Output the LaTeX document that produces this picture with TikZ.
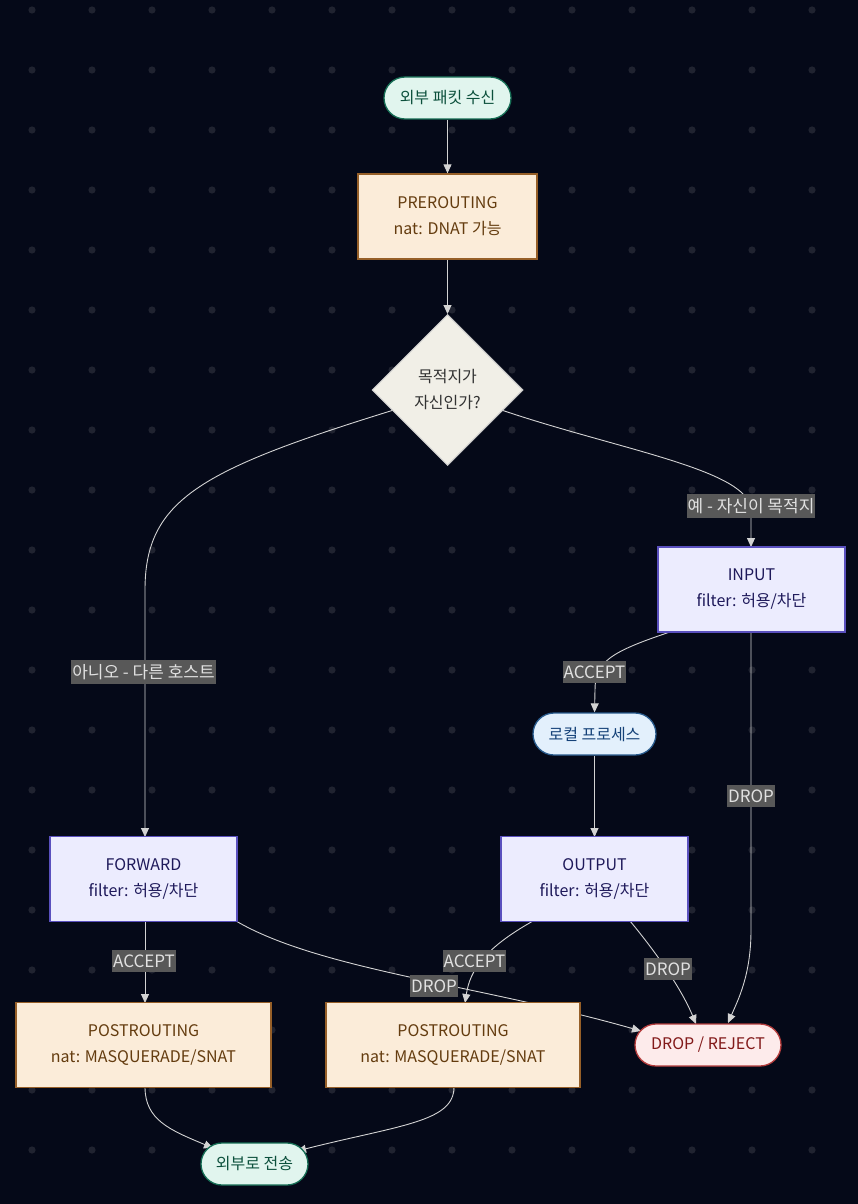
\documentclass[tikz,border=0pt]{standalone}
\usepackage{fontspec}
\setmainfont{Noto Sans CJK KR}
\usetikzlibrary{shapes.geometric,arrows.meta,calc}
\definecolor{bgc}{RGB}{5,9,24}
\definecolor{dotc}{RGB}{32,35,48}
\definecolor{edgec}{RGB}{211,211,211}
\definecolor{labbg}{RGB}{88,88,88}
\definecolor{labtx}{RGB}{225,225,225}
\definecolor{mintf}{RGB}{225,245,238}
\definecolor{mintd}{RGB}{22,110,85}
\definecolor{mintt}{RGB}{12,80,60}
\definecolor{peachf}{RGB}{251,236,217}
\definecolor{peachd}{RGB}{150,95,40}
\definecolor{peacht}{RGB}{100,60,15}
\definecolor{lavf}{RGB}{236,236,254}
\definecolor{lavd}{RGB}{90,80,190}
\definecolor{lavt}{RGB}{30,25,90}
\definecolor{bluef}{RGB}{227,240,252}
\definecolor{blued}{RGB}{40,90,140}
\definecolor{bluet}{RGB}{20,65,120}
\definecolor{pinkf}{RGB}{253,235,235}
\definecolor{pinkd}{RGB}{180,60,60}
\definecolor{pinkt}{RGB}{130,25,25}
\definecolor{diaf}{RGB}{241,239,231}
\definecolor{diad}{RGB}{200,200,200}
\definecolor{diat}{RGB}{50,50,50}
\pgfdeclarelayer{bg}
\pgfdeclarelayer{edges}
\pgfsetlayers{bg,edges,main}
\tikzset{
  nodefont/.style={font=\fontsize{16}{26}\selectfont, align=center, inner sep=0pt},
  stadium/.style={nodefont, rectangle, rounded corners=21pt, minimum height=42pt, line width=1.3pt},
  boxnode/.style={nodefont, rectangle, minimum height=85pt, line width=1.3pt},
  mintnode/.style={stadium, fill=mintf, draw=mintd, text=mintt},
  bluenode/.style={stadium, fill=bluef, draw=blued, text=bluet},
  pinknode/.style={stadium, fill=pinkf, draw=pinkd, text=pinkt},
  peachnode/.style={boxnode, fill=peachf, draw=peachd, text=peacht},
  lavnode/.style={boxnode, fill=lavf, draw=lavd, text=lavt},
  dianode/.style={nodefont, diamond, fill=diaf, draw=diad, text=diat, line width=1pt, minimum width=151pt, minimum height=151pt},
  conn/.style={draw=edgec, line width=0.9pt, -{Triangle[length=9pt,width=8pt]}},
  elabel/.style={font=\fontsize{17}{20}\selectfont, fill=labbg, text=labtx, inner xsep=1pt, inner ysep=4.5pt}
}
\begin{document}
\begin{tikzpicture}[x=1pt,y=-1pt]
\begin{pgfonlayer}{bg}
\fill[bgc] (0,0) rectangle (858,1204);
\foreach \i in {0,...,13} \foreach \j in {0,...,19} \fill[dotc] ({32+60*\i},{10+60*\j}) circle (3.6pt);
\end{pgfonlayer}
\useasboundingbox (0,0) rectangle (858,1204);

\node[mintnode, minimum width=127pt] (start) at (447.5,98) {외부 패킷 수신};
\node[peachnode, minimum width=179pt] (pre) at (447.5,216.5) {PREROUTING\\nat: DNAT 가능};
\node[dianode] (dia) at (447.5,390) {목적지가\\자신인가?};
\node[lavnode, minimum width=187pt] (input) at (751.5,589.5) {INPUT\\filter: 허용/차단};
\node[bluenode, minimum width=123pt] (local) at (594.5,734) {로컬 프로세스};
\node[lavnode, minimum width=187pt] (output) at (594.5,879) {OUTPUT\\filter: 허용/차단};
\node[lavnode, minimum width=187pt] (fwd) at (143.5,879) {FORWARD\\filter: 허용/차단};
\node[peachnode, minimum width=255pt] (postl) at (143.5,1045) {POSTROUTING\\nat: MASQUERADE/SNAT};
\node[peachnode, minimum width=254pt] (postr) at (453,1045) {POSTROUTING\\nat: MASQUERADE/SNAT};
\node[pinknode, minimum width=146pt] (drop) at (708,1045) {DROP / REJECT};
\node[mintnode, minimum width=107pt] (out) at (254.5,1164) {외부로 전송};

\coordinate (dl) at ($(dia.west)!0.27!(dia.south)$);
\coordinate (dr) at ($(dia.east)!0.27!(dia.south)$);

\begin{pgfonlayer}{edges}
\draw[conn] (start.south) -- (pre.north);
\draw[conn] (pre.south) -- (dia.north);
\draw[conn] (dl) .. controls (200,470) and (145,500) .. (145,590) -- (145,837);
\draw[conn] (dr) .. controls (620,450) and (750,470) .. (751,510) -- (751,547);
\draw[conn] (670,632) .. controls (610,652) and (595,662) .. (595,690) -- (local.north);
\draw[conn] (751,632) -- (751,930) .. controls (751,975) and (738,1000) .. (728,1023);
\draw[conn] (local.south) -- (594.5,837);
\draw[conn] (533,921) .. controls (485,948) and (470,970) .. (465,1003);
\draw[conn] (630,921) .. controls (650,945) and (680,985) .. (696,1024);
\draw[conn] (236,921) .. controls (320,970) and (480,985) .. (641,1031);
\draw[conn] (145,921) -- (145,1003);
\draw[conn] (145,1087) .. controls (145,1120) and (170,1130) .. (213,1148);
\draw[conn] (454,1087) .. controls (454,1122) and (400,1125) .. (297,1151);
\end{pgfonlayer}

\node[elabel] (l1) at (143.5,672) {아니오 - 다른 호스트};
\node[elabel] (l2) at (751,506) {예 - 자신이 목적지};
\node[elabel] (l3) at (594.5,672) {ACCEPT};
\node[elabel] (l4) at (751,796) {DROP};
\node[elabel] (l5) at (144,961) {ACCEPT};
\node[elabel] (l6) at (474.5,961) {ACCEPT};
\node[elabel] (l7) at (434,986) {DROP};
\node[elabel] (l8) at (668,969) {DROP};
\end{tikzpicture}
\end{document}
